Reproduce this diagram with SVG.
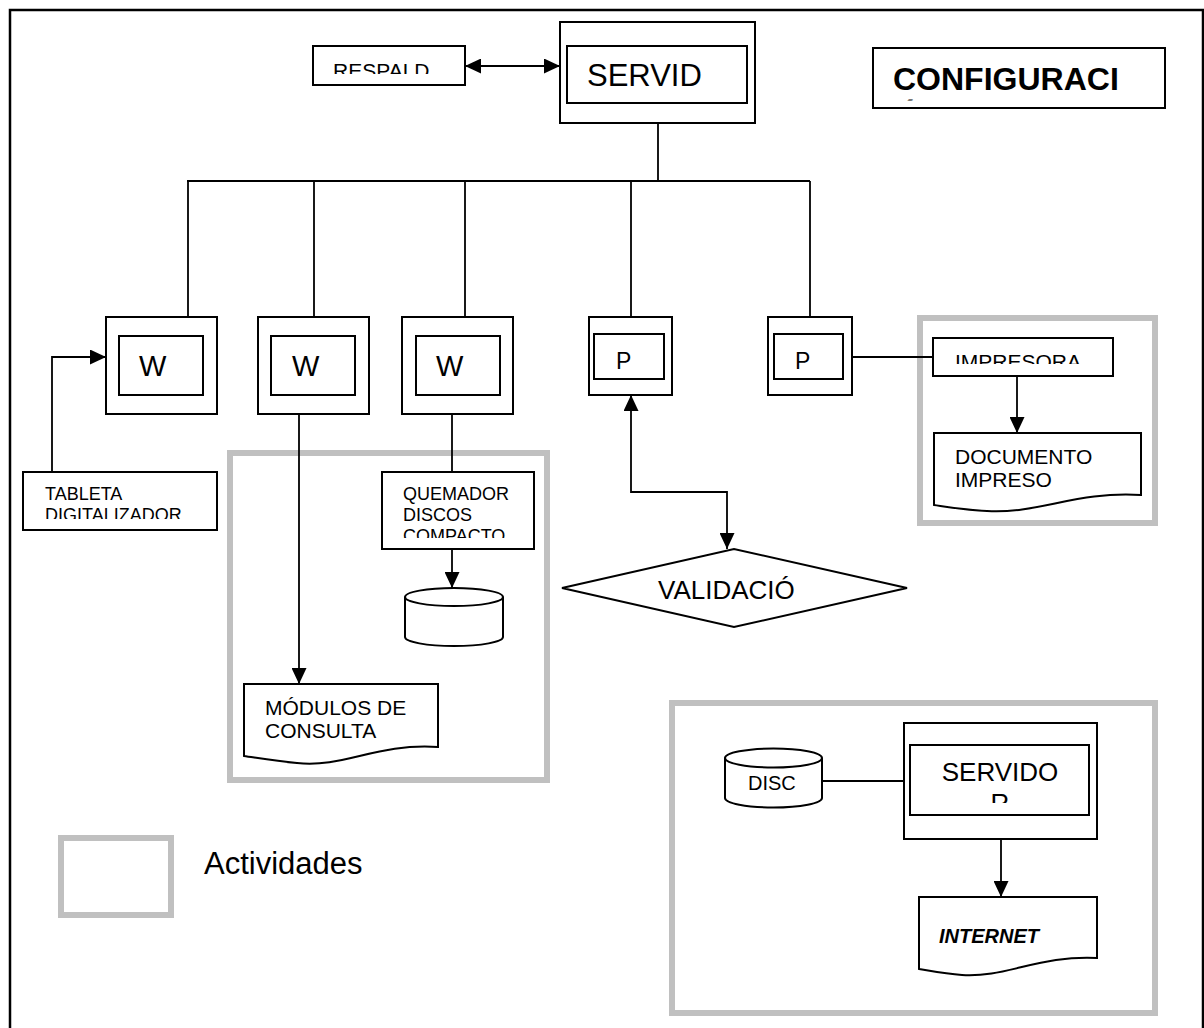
<svg xmlns="http://www.w3.org/2000/svg" width="1204" height="1028" viewBox="0 0 1204 1028">
<style>
  .box{fill:#fff;stroke:#000;stroke-width:2}
  .ln{fill:none;stroke:#000;stroke-width:1.8}
  .act{fill:none;stroke:#c0c0c0;stroke-width:6}
  text{font-family:"Liberation Sans",Arial,sans-serif;fill:#000}
</style>
<defs>
  <marker id="ah" markerUnits="userSpaceOnUse" markerWidth="16" markerHeight="15" refX="16" refY="7.5" orient="auto-start-reverse">
    <path d="M0,0 L16,7.5 L0,15 Z" fill="#000"/>
  </marker>
  <clipPath id="cRes"><rect x="313" y="46" width="152" height="28"/></clipPath>
  <clipPath id="cConf"><rect x="873" y="48" width="292" height="52.5"/></clipPath>
  <clipPath id="cTab"><rect x="23" y="472" width="194" height="47"/></clipPath>
  <clipPath id="cQue"><rect x="382" y="472" width="152" height="66"/></clipPath>
  <clipPath id="cImp"><rect x="933" y="338" width="180" height="26"/></clipPath>
  <clipPath id="cSrv"><rect x="910" y="745" width="179" height="58"/></clipPath>
</defs>
<rect x="0" y="0" width="1204" height="1028" fill="#fff"/>
<rect x="10" y="10" width="1193" height="1040" fill="none" stroke="#000" stroke-width="2.5"/>

<g id="activities">
  <rect class="act" x="230" y="453" width="317" height="327"/>
  <rect class="act" x="920" y="318" width="235" height="205"/>
  <rect class="act" x="672" y="703" width="483" height="310"/>
</g>

<g id="connectors">
  <line class="ln" x1="465" y1="66" x2="560" y2="66" marker-start="url(#ah)" marker-end="url(#ah)"/>
  <line class="ln" x1="658" y1="123" x2="658" y2="181"/>
  <line class="ln" x1="187" y1="181" x2="810" y2="181"/>
  <line class="ln" x1="188" y1="181" x2="188" y2="317"/>
  <line class="ln" x1="314" y1="181" x2="314" y2="317"/>
  <line class="ln" x1="465" y1="181" x2="465" y2="317"/>
  <line class="ln" x1="631" y1="181" x2="631" y2="317"/>
  <line class="ln" x1="810" y1="181" x2="810" y2="317"/>
  <polyline class="ln" points="52,472 52,357 106,357" marker-end="url(#ah)"/>
  <line class="ln" x1="299" y1="414" x2="299" y2="684" marker-end="url(#ah)"/>
  <line class="ln" x1="452" y1="414" x2="452" y2="472"/>
  <line class="ln" x1="452" y1="549" x2="452" y2="588" marker-end="url(#ah)"/>
  <polyline class="ln" points="631,395 631,492 727,492 727,549" marker-start="url(#ah)" marker-end="url(#ah)"/>
  <line class="ln" x1="852" y1="357" x2="933" y2="357"/>
  <line class="ln" x1="1017" y1="376" x2="1017" y2="433" marker-end="url(#ah)"/>
  <line class="ln" x1="822" y1="781" x2="904" y2="781"/>
  <line class="ln" x1="1001" y1="839" x2="1001" y2="897" marker-end="url(#ah)"/>
</g>

<g id="respaldo">
  <rect class="box" x="313" y="46" width="152" height="39"/>
  <text x="333" y="78" font-size="21" clip-path="url(#cRes)">RESPALD</text>
</g>
<g id="servidor">
  <rect class="box" x="560" y="22" width="195" height="101"/>
  <rect class="box" x="567" y="46" width="180" height="57"/>
  <text x="587" y="86" font-size="31">SERVID</text>
</g>
<g id="configuracion">
  <rect class="box" x="873" y="48" width="292" height="60"/>
  <text x="893" y="90" font-size="32" font-weight="bold">CONFIGURACI</text>
  <text x="895" y="128" font-size="32" font-weight="bold" clip-path="url(#cConf)">ÓN</text>
</g>
<g id="w1">
  <rect class="box" x="106" y="317" width="111" height="97"/>
  <rect class="box" x="119" y="336" width="84" height="59"/>
  <text x="139" y="376" font-size="29">W</text>
</g>
<g id="w2">
  <rect class="box" x="258" y="317" width="111" height="97"/>
  <rect class="box" x="271" y="336" width="84" height="59"/>
  <text x="292" y="376" font-size="29">W</text>
</g>
<g id="w3">
  <rect class="box" x="402" y="317" width="111" height="97"/>
  <rect class="box" x="416" y="336" width="84" height="59"/>
  <text x="436" y="376" font-size="29">W</text>
</g>
<g id="p1">
  <rect class="box" x="589" y="317" width="83" height="78"/>
  <rect class="box" x="594" y="334" width="70" height="45"/>
  <text x="616" y="369" font-size="23">P</text>
</g>
<g id="p2">
  <rect class="box" x="768" y="317" width="84" height="78"/>
  <rect class="box" x="774" y="334" width="69" height="45"/>
  <text x="795" y="369" font-size="23">P</text>
</g>
<g id="tableta">
  <rect class="box" x="23" y="472" width="194" height="58"/>
  <g clip-path="url(#cTab)">
    <text x="45" y="500" font-size="18">TABLETA</text>
    <text x="45" y="521" font-size="18">DIGITALIZADOR</text>
  </g>
</g>
<g id="quemador">
  <rect class="box" x="382" y="472" width="152" height="77"/>
  <g clip-path="url(#cQue)">
    <text x="403" y="500" font-size="18">QUEMADOR</text>
    <text x="403" y="521" font-size="18">DISCOS</text>
    <text x="403" y="542" font-size="18">COMPACTO</text>
  </g>
</g>
<g id="disco-compacto">
  <path class="box" d="M405,597 A49,9 0 0 1 503,597 V637 A49,9 0 0 1 405,637 Z"/>
  <path class="ln" style="stroke-width:2" d="M405,597 A49,9 0 0 0 503,597"/>
</g>
<g id="modulos">
  <path class="box" d="M244,684 H438 V747 C375,743 345,768 297,763 C275,761 258,758 244,756 Z"/>
  <text x="265" y="715" font-size="21">MÓDULOS DE</text>
  <text x="265" y="738" font-size="21">CONSULTA</text>
</g>
<g id="validacion">
  <polygon class="box" points="562,588 734,549 907,588 734,627"/>
  <text x="658" y="599" font-size="26">VALIDACIÓ</text>
</g>
<g id="impresora">
  <rect class="box" x="933" y="338" width="180" height="38"/>
  <text x="955" y="369" font-size="21" clip-path="url(#cImp)">IMPRESORA</text>
</g>
<g id="documento">
  <path class="box" d="M934,433 H1141 V495 C1075,491 1040,514 987,511 C966,510 948,507 934,505 Z"/>
  <text x="955" y="464" font-size="21">DOCUMENTO</text>
  <text x="955" y="487" font-size="21">IMPRESO</text>
</g>
<g id="disc">
  <path class="box" d="M725,758 A48.5,9.5 0 0 1 822,758 V798 A48.5,9.5 0 0 1 725,798 Z"/>
  <path class="ln" style="stroke-width:2" d="M725,758 A48.5,9.5 0 0 0 822,758"/>
  <text x="748" y="790" font-size="20">DISC</text>
</g>
<g id="servidor-web">
  <rect class="box" x="904" y="723" width="193" height="116"/>
  <rect class="box" x="910" y="745" width="179" height="70"/>
  <text x="1000" y="781" font-size="26" text-anchor="middle">SERVIDO</text>
  <text x="1000" y="812" font-size="26" text-anchor="middle" clip-path="url(#cSrv)">R</text>
</g>
<g id="internet">
  <path class="box" d="M919,897 H1097 V958 C1040,955 1005,978 962,975 C945,974 931,971 919,969 Z"/>
  <text x="939" y="943" font-size="20" font-weight="bold" font-style="italic">INTERNET</text>
</g>
<g id="legend">
  <rect class="act" x="61" y="838" width="110" height="77"/>
  <text x="204" y="874" font-size="31">Actividades</text>
</g>
</svg>
